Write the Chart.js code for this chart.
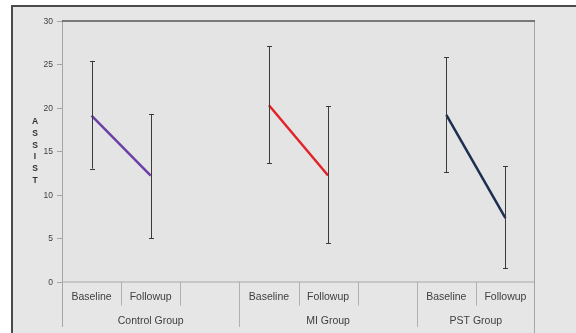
<!DOCTYPE html>
<html>
<head>
<meta charset="utf-8">
<script src="https://cdn.jsdelivr.net/npm/chart.js@4"></script>
<style>
html,body{margin:0;padding:0;background:#fff;}
#wrap{position:relative;width:576px;height:333px;}
canvas{display:block;}
</style>
</head>
<body>
<div id="wrap"><canvas id="c" width="576" height="333"></canvas></div>
<script>
// ---- data ----
const categories = ['Baseline','Followup','','Baseline','Followup','','Baseline','Followup'];
const groups = ['Control Group','MI Group','PST Group'];
const groupSpans = [[0,2],[3,5],[6,7]];        // category index ranges per group
const seriesNames = ['Control Group','MI Group','PST Group'];
const controlMeans = [19.1, 12.2, null, null, null, null, null, null];
const miMeans      = [null, null, null, 20.3, 12.2, null, null, null];
const pstMeans     = [null, null, null, null, null, null, 19.2, 7.3];
const errLow  = [13.0, 5.0, null, 13.6, 4.4, null, 12.6, 1.5];
const errHigh = [25.4, 19.3, null, 27.1, 20.2, null, 25.8, 13.3];
const yTicks = [0,5,10,15,20,25,30];
const yTitle = 'ASSIST';

const FONT = '"Liberation Sans", Arial, sans-serif';

const frameAndAxes = {
  id: 'frameAndAxes',
  beforeDraw(chart) {
    const ctx = chart.ctx;
    const a = chart.chartArea;
    ctx.save();
    ctx.fillStyle = '#ffffff';
    ctx.fillRect(0,0,chart.width,chart.height);
    ctx.fillStyle = '#e6e6e6';
    ctx.fillRect(12,6,chart.width-12,chart.height-6);
    ctx.strokeStyle = '#4a4a4a';
    ctx.lineWidth = 2;
    ctx.beginPath();
    ctx.moveTo(12, chart.height); ctx.lineTo(12, 6); ctx.lineTo(chart.width, 6);
    ctx.stroke();
    ctx.fillStyle = '#e4e4e4';
    ctx.fillRect(a.left, a.top, a.right-a.left, a.bottom-a.top);
    ctx.restore();
  },
  afterDraw(chart) {
    const ctx = chart.ctx;
    const a = chart.chartArea;
    const x = chart.scales.x;
    const y = chart.scales.y;
    const half = (x.getPixelForValue(1) - x.getPixelForValue(0)) / 2;
    ctx.save();
    // plot borders
    ctx.lineWidth = 1;
    ctx.strokeStyle = '#a6a6a6';
    ctx.beginPath();
    ctx.moveTo(a.left+0.5, a.top); ctx.lineTo(a.left+0.5, chart.height-6);
    ctx.moveTo(a.right-0.5, a.top); ctx.lineTo(a.right-0.5, chart.height);
    ctx.moveTo(a.left, a.bottom+0.5); ctx.lineTo(a.right, a.bottom+0.5);
    ctx.stroke();
    ctx.strokeStyle = '#555';
    ctx.lineWidth = 1.5;
    ctx.beginPath();
    ctx.moveTo(a.left, a.top); ctx.lineTo(a.right, a.top);
    ctx.stroke();
    // y ticks
    ctx.strokeStyle = '#a6a6a6';
    ctx.lineWidth = 1;
    ctx.fillStyle = '#404040';
    ctx.font = '8.5px ' + FONT;
    ctx.textAlign = 'right';
    ctx.textBaseline = 'middle';
    yTicks.forEach(v => {
      const py = Math.round(y.getPixelForValue(v)) + 0.5;
      ctx.beginPath(); ctx.moveTo(a.left-5, py); ctx.lineTo(a.left, py); ctx.stroke();
      ctx.fillText(String(v), a.left-9, py);
    });
    // y title stacked letters
    ctx.font = 'bold 8.5px ' + FONT;
    ctx.textAlign = 'center';
    ctx.fillStyle = '#333';
    const letters = yTitle.split('');
    const step = 11.7;
    const mid = (a.top + a.bottom) / 2;
    letters.forEach((ch, i) => {
      ctx.fillText(ch, 35, mid + (i - (letters.length-1)/2) * step);
    });
    // category axis
    ctx.strokeStyle = '#b0b0b0';
    ctx.fillStyle = '#404040';
    ctx.font = '10.5px ' + FONT;
    categories.forEach((c, i) => {
      const cx = x.getPixelForValue(i);
      if (c) ctx.fillText(c, cx, a.bottom + 16);
      // divider right of each category (inner)
      const bx = Math.round(cx + half) + 0.5;
      const isGroupEnd = groupSpans.some(s => s[1] === i);
      if (!isGroupEnd) {
        ctx.beginPath(); ctx.moveTo(bx, a.bottom); ctx.lineTo(bx, a.bottom + 24); ctx.stroke();
      }
    });
    groupSpans.forEach((s, gi) => {
      const l = x.getPixelForValue(s[0]) - half;
      const r = x.getPixelForValue(s[1]) + half;
      const bx = Math.round(r) + 0.5;
      if (gi < groupSpans.length - 1) {
        ctx.beginPath(); ctx.moveTo(bx, a.bottom); ctx.lineTo(bx, chart.height - 6); ctx.stroke();
      }
      ctx.fillText(groups[gi], (l + r) / 2, a.bottom + 40);
    });
    // error bars
    ctx.strokeStyle = '#3a3a3a';
    ctx.lineWidth = 1;
    errLow.forEach((lo, i) => {
      if (lo === null) return;
      const px = Math.round(x.getPixelForValue(i)) + 0.5;
      const pl = y.getPixelForValue(lo), ph = y.getPixelForValue(errHigh[i]);
      ctx.beginPath();
      ctx.moveTo(px, pl); ctx.lineTo(px, ph);
      ctx.moveTo(px-2.5, Math.round(pl)+0.5); ctx.lineTo(px+2.5, Math.round(pl)+0.5);
      ctx.moveTo(px-2.5, Math.round(ph)+0.5); ctx.lineTo(px+2.5, Math.round(ph)+0.5);
      ctx.stroke();
    });
    ctx.restore();
  }
};

new Chart(document.getElementById('c'), {
  type: 'line',
  data: {
    labels: categories,
    datasets: [
      { label: seriesNames[0], data: controlMeans, borderColor: '#6c3fa6', borderWidth: 2.5, pointRadius: 0, spanGaps: false },
      { label: seriesNames[1], data: miMeans, borderColor: '#e1232a', borderWidth: 2.5, pointRadius: 0, spanGaps: false },
      { label: seriesNames[2], data: pstMeans, borderColor: '#1c2f50', borderWidth: 2.5, pointRadius: 0, spanGaps: false }
    ]
  },
  options: {
    responsive: false,
    animation: false,
    layout: { padding: { left: 62, top: 21, right: 41, bottom: 51.5 } },
    plugins: { legend: { display: false }, tooltip: { enabled: false } },
    scales: {
      x: { display: false, offset: true },
      y: { display: false, min: 0, max: 30 }
    }
  },
  plugins: [frameAndAxes]
});
</script>
</body>
</html>
